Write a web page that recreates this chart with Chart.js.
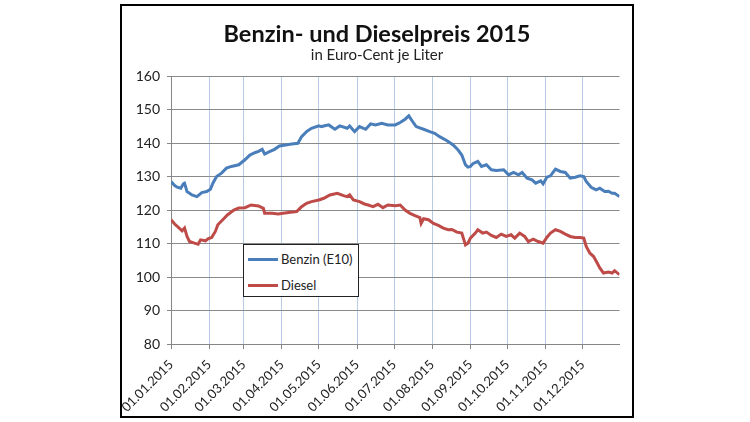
<!doctype html>
<html lang="de">
<head>
<meta charset="utf-8" />
<title>Benzin- und Dieselpreis 2015</title>
<script src="https://cdn.jsdelivr.net/npm/chart.js@4"></script>
<style>
  body { margin: 0; background: #fff; font-family: Lato, sans-serif; }
  .wrap { position: relative; width: 750px; height: 422px; }
  .frame { position: absolute; left: 120px; top: 4px; width: 510px; height: 410px; border: 2px solid #000; pointer-events: none; }
  .legend { position: absolute; left: 243px; top: 244px; width: 114px; height: 51px; border: 1.5px solid #222; background: #fff; font-size: 13px; color: #222; }
  .legend .item { position: absolute; left: 4px; display: flex; align-items: center; }
  .legend .swatch { width: 30px; height: 3px; margin-right: 3px; }
</style>
</head>
<body>
<div class="wrap">
  <canvas id="chart" width="750" height="422"></canvas>
  <div class="frame"></div>
  <div class="legend" id="legend"></div>
</div>
<script>
// Tages-Index ab 01.01.2015 (0 = 1. Januar)
const monthDays = [0, 31, 59, 90, 120, 151, 181, 212, 243, 273, 304, 334];
const monthLabels = ['01.01.2015', '01.02.2015', '01.03.2015', '01.04.2015', '01.05.2015', '01.06.2015',
  '01.07.2015', '01.08.2015', '01.09.2015', '01.10.2015', '01.11.2015', '01.12.2015'];

const seriesNames = ['Benzin (E10)', 'Diesel'];
const seriesColors = ['#4a7ebb', '#be4b48'];

// Benzin (E10), Euro-Cent je Liter
const benzinDays = [0, 3, 5, 8, 10, 11, 13, 17, 21, 25, 29, 32, 34, 37, 41, 45, 49, 55, 60, 64, 68, 71, 74, 76, 80,
  84, 88, 93, 98, 103, 106, 110, 114, 120, 122, 128, 133, 137, 143, 145, 149, 153, 158, 162, 166, 171, 176, 182,
  186, 190, 193, 197, 199, 205, 210, 214, 218, 224, 229, 233, 236, 239, 241, 243, 245, 249, 252, 256, 260, 264,
  270, 274, 278, 282, 285, 289, 293, 296, 300, 302, 305, 308, 312, 316, 320, 324, 328, 332, 335, 337, 341, 345,
  348, 352, 355, 358, 360, 364];
const benzinValues = [128.5, 127.3, 126.8, 126.5, 127.8, 128, 125.5, 124.5, 124, 125.2, 125.5, 126.2, 128, 130, 131,
  132.5, 133, 133.5, 135, 136.4, 137.1, 137.5, 138.1, 136.7, 137.4, 138.1, 139.1, 139.4, 139.7, 139.9, 141.9,
  143.4, 144.4, 145.1, 144.9, 145.4, 144.1, 145.1, 144.4, 145.1, 143.4, 144.9, 144.1, 145.7, 145.4, 145.9, 145.4,
  145.4, 146.1, 147.1, 148.1, 145.9, 144.9, 144.1, 143.4, 142.9, 141.9, 140.7, 139.4, 137.9, 136.4, 133.5, 132.8,
  133, 133.8, 134.5, 133, 133.5, 132, 131.8, 132, 130.5, 131.2, 130.5, 131.2, 129.5, 129, 128, 128.7, 127.8, 129.8,
  130.2, 132.2, 131.5, 131.2, 129.5, 129.8, 130.2, 130, 128.5, 126.8, 126, 126.5, 125.5, 125.6, 125, 125, 124];

// Diesel, Euro-Cent je Liter
const dieselDays = [0, 3, 6, 9, 11, 13, 15, 19, 22, 24, 28, 30, 33, 36, 38, 42, 46, 51, 55, 60, 65, 71, 75, 76, 82,
  87, 91, 97, 102, 106, 110, 114, 120, 124, 129, 135, 140, 143, 145, 148, 153, 157, 160, 164, 168, 172, 176, 182,
  186, 190, 194, 198, 202, 203, 205, 209, 213, 217, 221, 225, 228, 232, 236, 239, 241, 243, 247, 249, 253, 256,
  260, 264, 268, 272, 276, 279, 283, 287, 290, 294, 298, 302, 305, 308, 312, 316, 320, 324, 328, 332, 335, 337,
  340, 343, 346, 348, 351, 355, 358, 360, 364];
const dieselValues = [117.1, 115.8, 114.8, 113.8, 114.6, 112.1, 110.6, 110.1, 109.8, 111.1, 110.8, 111.4, 111.8,
  113.6, 115.6, 117.1, 118.6, 120, 120.6, 120.7, 121.5, 121.2, 120.5, 119, 119, 118.8, 119, 119.3, 119.5, 121, 122,
  122.5, 123, 123.5, 124.5, 125, 124.3, 124, 124.5, 123, 122.5, 121.8, 121.5, 121, 121.7, 120.7, 121.5, 121.3,
  121.5, 120, 119, 118.3, 117.7, 116, 117.4, 117.1, 116, 115.4, 114.6, 114.1, 114.2, 113.4, 113.1, 109.6, 110.1,
  111.6, 113.1, 114.1, 113.1, 113.4, 112.4, 111.8, 112.8, 112.1, 112.6, 111.6, 113.1, 112.1, 110.6, 111.3, 110.6,
  110.1, 111.8, 113.1, 114.1, 113.6, 112.8, 112.1, 111.8, 111.8, 111.6, 109.1, 107.1, 106.1, 104.1, 102.7, 101.2,
  101.5, 101.2, 101.9, 100.7];

const yTicks = { min: 80, max: 160, step: 10 };

function points(days, values) {
  return days.map((day, i) => ({ x: day, y: values[i] }));
}

Chart.defaults.font.family = 'Lato, sans-serif';
Chart.defaults.color = '#222';

const chart = new Chart(document.getElementById('chart'), {
  type: 'line',
  data: {
    datasets: [
      { label: seriesNames[0], data: points(benzinDays, benzinValues) },
      { label: seriesNames[1], data: points(dieselDays, dieselValues) },
    ].map((ds, i) => ({
      ...ds,
      borderColor: seriesColors[i],
      backgroundColor: seriesColors[i],
      borderWidth: 3,
      pointRadius: 0,
      tension: 0,
    })),
  },
  options: {
    responsive: false,
    animation: false,
    devicePixelRatio: 1,
    layout: { padding: { left: 134.5, right: 130.5, top: 5, bottom: 8 } },
    plugins: {
      legend: { display: false },
      tooltip: { enabled: false },
      title: {
        display: true,
        text: 'Benzin- und Dieselpreis 2015',
        color: '#111',
        font: { size: 23.5, weight: 'bold', lineHeight: 1 },
        padding: { top: 17.5, bottom: 0 },
      },
      subtitle: {
        display: true,
        text: 'in Euro-Cent je Liter',
        color: '#222',
        font: { size: 15, lineHeight: 1 },
        padding: { top: 1.5, bottom: 13.5 },
      },
    },
    scales: {
      x: {
        type: 'linear',
        min: monthDays[0],
        max: 364,
        afterBuildTicks: (scale) => { scale.ticks = monthDays.map((value) => ({ value })); },
        afterFit: (scale) => { scale.height = 70; },
        grid: { color: '#b7cbe4', tickColor: '#868686', tickLength: 5 },
        border: { color: '#868686' },
        ticks: {
          autoSkip: false,
          maxRotation: 45,
          minRotation: 45,
          padding: 8,
          font: { size: 13 },
          callback: (value) => monthLabels[monthDays.indexOf(value)],
        },
      },
      y: {
        min: yTicks.min,
        max: yTicks.max,
        afterFit: (scale) => { scale.width = 36.5; },
        grid: { color: '#8a8a8a', tickColor: '#868686', tickLength: 4 },
        border: { color: '#868686' },
        ticks: { stepSize: yTicks.step, padding: 7, font: { size: 14 } },
      },
    },
  },
});

// Legende als HTML-Kasten innerhalb der Zeichenfläche
const legend = document.getElementById('legend');
chart.data.datasets.forEach((ds, i) => {
  const item = document.createElement('div');
  item.className = 'item';
  item.style.top = (6 + i * 26) + 'px';
  item.innerHTML = `<span class="swatch" style="background:${ds.borderColor}"></span><span>${ds.label}</span>`;
  legend.appendChild(item);
});
</script>
</body>
</html>
